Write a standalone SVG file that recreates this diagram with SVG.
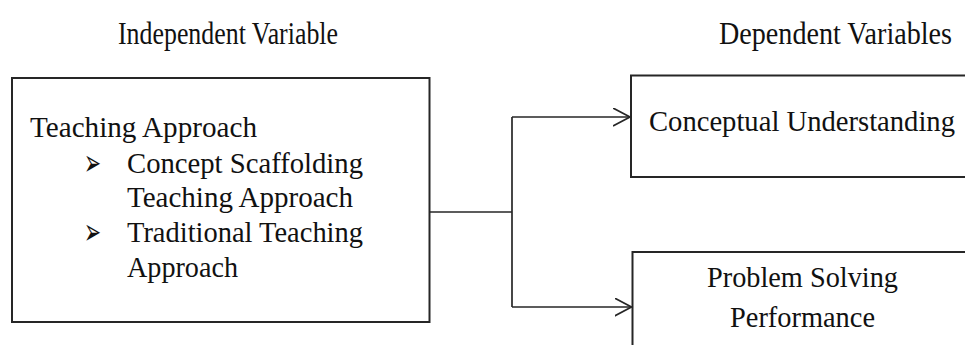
<svg xmlns="http://www.w3.org/2000/svg" width="965" height="345" viewBox="0 0 965 345">
<defs>
<style>
.box{fill:#fff;stroke:#262626;stroke-width:2}
.conn{fill:none;stroke:#262626;stroke-width:1.7}
.t{font-family:"Liberation Serif","Times New Roman",serif;font-size:29px;fill:#111}
.h{font-family:"Liberation Serif","Times New Roman",serif;font-size:28px;fill:#111}
.b{font-family:"DejaVu Sans",sans-serif;font-size:36px;fill:#111}
</style>
<marker id="arr" markerWidth="20" markerHeight="20" refX="17" refY="9" orient="auto" markerUnits="userSpaceOnUse">
<path d="M0,0 L17,9 L0,18" fill="none" stroke="#262626" stroke-width="1.7"/>
</marker>
</defs>
<rect width="965" height="345" fill="#fff"/>
<g id="headings">
<text class="h" transform="translate(118,44) scale(1,1.12)" textLength="220" lengthAdjust="spacingAndGlyphs">Independent Variable</text>
<text class="h" transform="translate(719,44) scale(1,1.12)" textLength="233" lengthAdjust="spacingAndGlyphs">Dependent Variables</text>
</g>
<g id="node-teaching">
<rect class="box" x="12" y="78" width="417.5" height="244"/>
<text class="t" x="30" y="137" textLength="227" lengthAdjust="spacingAndGlyphs">Teaching Approach</text>
<text class="b" x="84" y="175" textLength="17" lengthAdjust="spacingAndGlyphs">➢</text>
<text class="t" x="127" y="173" textLength="236" lengthAdjust="spacingAndGlyphs">Concept Scaffolding</text>
<text class="t" x="127" y="207" textLength="226" lengthAdjust="spacingAndGlyphs">Teaching Approach</text>
<text class="b" x="84" y="244" textLength="17" lengthAdjust="spacingAndGlyphs">➢</text>
<text class="t" x="127" y="242" textLength="236" lengthAdjust="spacingAndGlyphs">Traditional Teaching</text>
<text class="t" x="127" y="277" textLength="111" lengthAdjust="spacingAndGlyphs">Approach</text>
</g>
<g id="node-conceptual">
<rect class="box" x="631" y="75.5" width="345" height="101.5"/>
<text class="t" x="649" y="131" textLength="306" lengthAdjust="spacingAndGlyphs">Conceptual Understanding</text>
</g>
<g id="node-problem">
<rect class="box" x="632.5" y="252" width="345" height="110"/>
<text class="t" x="707" y="287" textLength="191" lengthAdjust="spacingAndGlyphs">Problem Solving</text>
<text class="t" x="730" y="327" textLength="145" lengthAdjust="spacingAndGlyphs">Performance</text>
</g>
<g id="connectors">
<path class="conn" d="M429.5,212 H512"/>
<path class="conn" d="M512,117 V307"/>
<path class="conn" d="M512,117 H630" marker-end="url(#arr)"/>
<path class="conn" d="M512,307 H631.5" marker-end="url(#arr)"/>
</g>
</svg>
